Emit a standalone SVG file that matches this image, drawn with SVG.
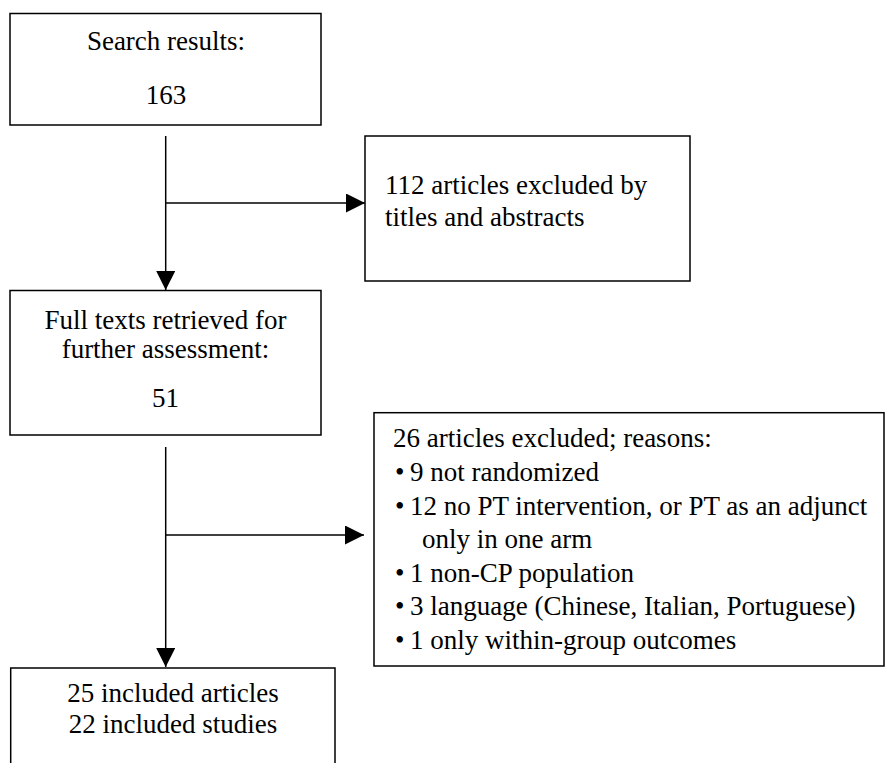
<svg xmlns="http://www.w3.org/2000/svg" width="891" height="763" viewBox="0 0 891 763">
<defs>
<style>
.box{fill:#fff;stroke:#000;stroke-width:1.5}
.ln{fill:none;stroke:#000;stroke-width:1.5}
text{font-family:"Liberation Serif","Times New Roman",serif;font-size:27px;fill:#000}
.c{text-anchor:middle}
</style>
<marker id="ah" markerUnits="userSpaceOnUse" markerWidth="20" markerHeight="20" refX="19" refY="9.5" orient="auto">
<path d="M0,0 L19,9.5 L0,19 Z" fill="#000"/>
</marker>
</defs>
<rect width="891" height="763" fill="#fff"/>
<g id="connectors">
<line class="ln" x1="165.7" y1="136" x2="165.7" y2="290" marker-end="url(#ah)"/>
<line class="ln" x1="165.7" y1="203" x2="365" y2="203" marker-end="url(#ah)"/>
<line class="ln" x1="165.7" y1="447" x2="165.7" y2="667" marker-end="url(#ah)"/>
<line class="ln" x1="165.7" y1="535" x2="364" y2="535" marker-end="url(#ah)"/>
</g>
<g id="search">
<rect class="box" x="10" y="13.5" width="311" height="111.5"/>
<text class="c" x="166" y="50">Search results:</text>
<text class="c" x="166" y="104">163</text>
</g>
<g id="excluded1">
<rect class="box" x="365" y="136" width="325" height="145"/>
<text x="385" y="194">112 articles excluded by</text>
<text x="385" y="226">titles and abstracts</text>
</g>
<g id="fulltexts">
<rect class="box" x="10" y="290.5" width="311" height="144.5"/>
<text class="c" x="165.5" y="329">Full texts retrieved for</text>
<text class="c" x="165.5" y="358">further assessment:</text>
<text class="c" x="165.5" y="407">51</text>
</g>
<g id="excluded2">
<rect class="box" x="374" y="412.7" width="510" height="253.3"/>
<text x="393" y="447">26 articles excluded; reasons:</text>
<text x="395" y="481">•</text><text x="410" y="481">9 not randomized</text>
<text x="395" y="514.5">•</text><text x="410" y="514.5">12 no PT intervention, or PT as an adjunct</text>
<text x="422" y="548">only in one arm</text>
<text x="395" y="581.5">•</text><text x="410" y="581.5">1 non-CP population</text>
<text x="395" y="615">•</text><text x="410" y="615">3 language (Chinese, Italian, Portuguese)</text>
<text x="395" y="648.5">•</text><text x="410" y="648.5">1 only within-group outcomes</text>
</g>
<g id="included">
<path class="ln" d="M10.7,770 V668 H335 V770"/>
<text class="c" x="173" y="702">25 included articles</text>
<text class="c" x="173" y="733">22 included studies</text>
</g>
</svg>
